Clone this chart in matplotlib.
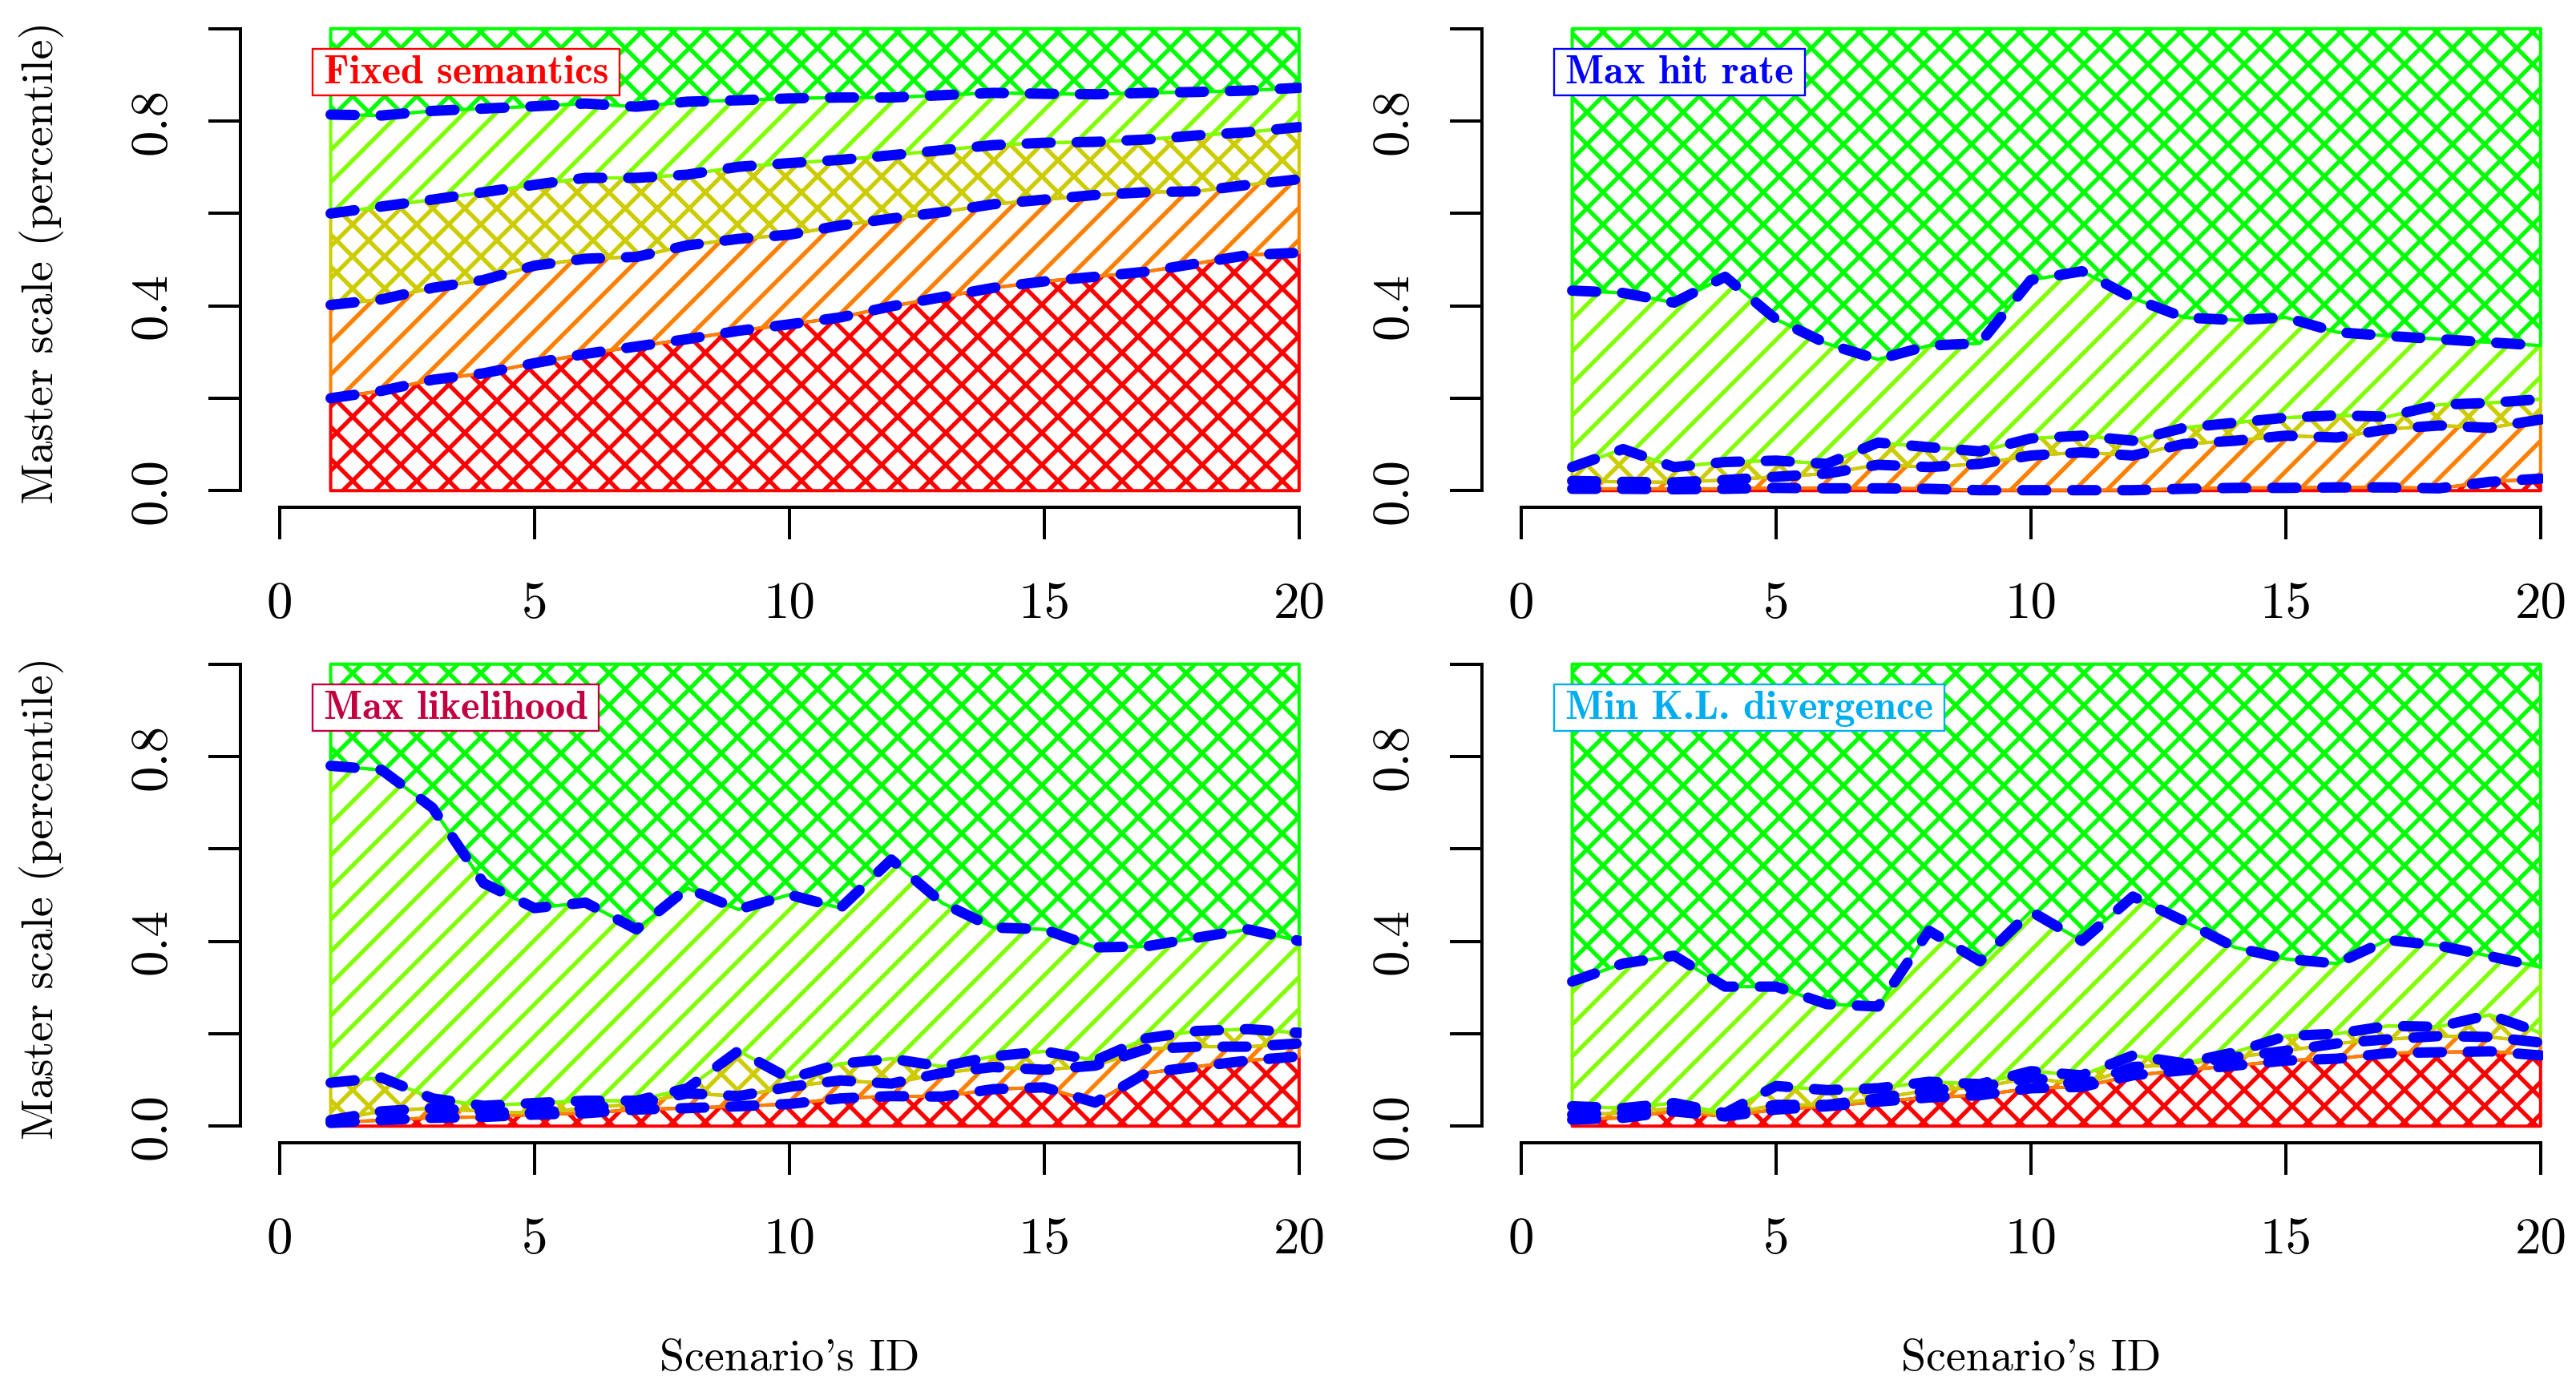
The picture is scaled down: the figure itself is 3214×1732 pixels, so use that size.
import numpy as np
import matplotlib
matplotlib.use("Agg")
import matplotlib.pyplot as plt
from matplotlib.patches import Rectangle
from matplotlib import transforms

W, H, DPI = 3214, 1732, 240

plt.rcParams["font.family"] = "cmr10"
plt.rcParams["axes.unicode_minus"] = False
plt.rcParams["hatch.linewidth"] = 1.6

scenario = np.arange(1, 21)

# layer boundaries (bottom to top)
fixed_b1 = [0.200, 0.216, 0.240, 0.254, 0.276, 0.296, 0.312, 0.328, 0.346, 0.360,
            0.375, 0.399, 0.419, 0.439, 0.453, 0.463, 0.474, 0.492, 0.510, 0.515]
fixed_b2 = [0.402, 0.414, 0.439, 0.456, 0.487, 0.502, 0.506, 0.531, 0.545, 0.554,
            0.574, 0.589, 0.603, 0.620, 0.630, 0.640, 0.646, 0.648, 0.662, 0.674]
fixed_b3 = [0.600, 0.615, 0.630, 0.646, 0.662, 0.677, 0.677, 0.684, 0.701, 0.709,
            0.716, 0.726, 0.737, 0.748, 0.753, 0.755, 0.760, 0.769, 0.776, 0.787]
fixed_b4 = [0.814, 0.812, 0.822, 0.827, 0.832, 0.838, 0.831, 0.842, 0.845, 0.849,
            0.851, 0.851, 0.856, 0.861, 0.859, 0.858, 0.861, 0.863, 0.866, 0.872]

hit_b1 = [0.004, 0.004, 0.003, 0.004, 0.006, 0.005, 0.005, 0.004, 0.001, 0.001,
          0.001, 0.001, 0.004, 0.006, 0.006, 0.007, 0.007, 0.005, 0.019, 0.026]
hit_b2 = [0.021, 0.019, 0.018, 0.023, 0.030, 0.037, 0.056, 0.051, 0.058, 0.076,
          0.083, 0.076, 0.101, 0.108, 0.119, 0.115, 0.133, 0.141, 0.136, 0.154]
hit_b3 = [0.051, 0.090, 0.051, 0.062, 0.065, 0.058, 0.104, 0.094, 0.085, 0.113,
          0.119, 0.108, 0.136, 0.147, 0.158, 0.163, 0.160, 0.186, 0.190, 0.198]
hit_b4 = [0.433, 0.428, 0.407, 0.463, 0.371, 0.318, 0.284, 0.314, 0.319, 0.456,
          0.475, 0.417, 0.375, 0.369, 0.375, 0.343, 0.335, 0.328, 0.321, 0.314]

lik_b1 = [0.007, 0.013, 0.018, 0.020, 0.025, 0.028, 0.036, 0.039, 0.043, 0.048,
          0.060, 0.065, 0.064, 0.080, 0.084, 0.051, 0.115, 0.129, 0.142, 0.151]
lik_b2 = [0.013, 0.032, 0.039, 0.032, 0.028, 0.039, 0.048, 0.071, 0.065, 0.085,
          0.099, 0.092, 0.115, 0.128, 0.122, 0.131, 0.167, 0.172, 0.172, 0.179]
lik_b3 = [0.094, 0.105, 0.060, 0.044, 0.050, 0.055, 0.055, 0.082, 0.163, 0.103,
          0.135, 0.146, 0.129, 0.151, 0.162, 0.142, 0.190, 0.206, 0.210, 0.202]
lik_b4 = [0.780, 0.771, 0.689, 0.526, 0.472, 0.484, 0.426, 0.515, 0.469, 0.501,
          0.472, 0.577, 0.483, 0.430, 0.426, 0.387, 0.389, 0.408, 0.426, 0.401]

kl_b1 = [0.014, 0.018, 0.032, 0.021, 0.036, 0.043, 0.053, 0.062, 0.067, 0.082,
         0.085, 0.110, 0.121, 0.131, 0.142, 0.146, 0.158, 0.160, 0.162, 0.153]
kl_b2 = [0.025, 0.028, 0.039, 0.025, 0.046, 0.046, 0.060, 0.078, 0.084, 0.105,
         0.089, 0.128, 0.134, 0.149, 0.163, 0.179, 0.188, 0.195, 0.193, 0.181]
kl_b3 = [0.043, 0.039, 0.050, 0.028, 0.087, 0.078, 0.082, 0.096, 0.091, 0.119,
         0.110, 0.153, 0.136, 0.160, 0.195, 0.200, 0.217, 0.215, 0.241, 0.202]
kl_b4 = [0.313, 0.352, 0.369, 0.302, 0.302, 0.264, 0.259, 0.423, 0.357, 0.465,
         0.401, 0.497, 0.444, 0.387, 0.362, 0.352, 0.403, 0.391, 0.368, 0.344]

titles = ["Fixed semantics", "Max hit rate", "Max likelihood", "Min K.L. divergence"]
title_colors = ["#FF0000", "#0000FF", "#C2003F", "#00AEEF"]
layer_colors = ["#FF0000", "#FF8000", "#CCCC00", "#80FF00", "#00FF00"]
layer_hatches = ["xx", "//", "xx", "//", "xx"]

xticks = [0, 5, 10, 15, 20]
yticks = [0.0, 0.2, 0.4, 0.6, 0.8, 1.0]
ytick_labels = ["0.0", "", "0.4", "", "0.8", ""]

panels = [
    [fixed_b1, fixed_b2, fixed_b3, fixed_b4],
    [hit_b1, hit_b2, hit_b3, hit_b4],
    [lik_b1, lik_b2, lik_b3, lik_b4],
    [kl_b1, kl_b2, kl_b3, kl_b4],
]

fig = plt.figure(figsize=(W / DPI, H / DPI), dpi=DPI)

# pixel frame of the top-left panel, others shifted
base = (300, 1624, 30, 633)  # left, right, top, bottom
dx, dy = 1549, 793

axes = []
for i, bounds in enumerate(panels):
    col, row = i % 2, i // 2
    l, r, t, b = base[0] + col * dx, base[1] + col * dx, base[2] + row * dy, base[3] + row * dy
    ax = fig.add_axes([l / W, 1 - b / H, (r - l) / W, (b - t) / H])
    ax.set_xlim(-0.77, 20.05)
    ax.set_ylim(-0.036, 1.01)

    levels = [np.zeros(20)] + [np.array(v) for v in bounds] + [np.ones(20)]
    for k in range(5):
        ax.fill_between(scenario, levels[k], levels[k + 1], facecolor="none",
                        edgecolor=layer_colors[k], hatch=layer_hatches[k],
                        linewidth=1.2, zorder=2 + k * 0.1)
    for v in bounds:
        ax.plot(scenario, v, color="#0000FF", linewidth=3.9, dashes=(2.3, 2.5),
                dash_capstyle="round", solid_capstyle="round", zorder=4)

    for s in ["top", "right"]:
        ax.spines[s].set_visible(False)
    ax.spines["left"].set_bounds(0, 1)
    ax.spines["bottom"].set_bounds(0, 20)
    ax.spines["left"].set_linewidth(1.2)
    ax.spines["bottom"].set_linewidth(1.2)
    ax.set_xticks(xticks)
    ax.set_xticklabels([str(v) for v in xticks])
    ax.set_yticks(yticks)
    ax.set_yticklabels(ytick_labels, rotation=90, va="center")
    ax.tick_params(axis="both", length=12, width=1.2, labelsize=19.5)
    ax.tick_params(axis="x", pad=16)
    ax.tick_params(axis="y", pad=12)

    txt = ax.text(0.865, 0.882, titles[i], color=title_colors[i], fontfamily="cmb10",
                  fontsize=15.2, ha="left", va="baseline", zorder=6)
    axes.append((ax, txt, i))

    if col == 0:
        fig.text(52 / W, 1 - (328 + row * dy) / H, "Master scale (percentile)",
                 rotation=90, ha="center", va="center", fontsize=16.8)
    if row == 1:
        tr = transforms.blended_transform_factory(ax.transData, fig.transFigure)
        ax.text(10, 1 - 1710 / H, "Scenario's ID", transform=tr, ha="center",
                va="baseline", fontsize=16.8)

# boxes around the method names
fig.canvas.draw()
renderer = fig.canvas.get_renderer()
for ax, txt, i in axes:
    ext = txt.get_window_extent(renderer)
    base_y = ax.transData.transform((0.865, 0.882))[1]
    x0, x1 = ext.x0 - 14, ext.x1 + 14
    y0, y1 = base_y - 15, base_y + 43
    inv = ax.transData.inverted()
    (dx0, dy0), (dx1, dy1) = inv.transform([(x0, y0), (x1, y1)])
    ax.add_patch(Rectangle((dx0, dy0), dx1 - dx0, dy1 - dy0, facecolor="white",
                           edgecolor=title_colors[i], linewidth=0.7, zorder=5))

fig.savefig("out.png", dpi=DPI)
